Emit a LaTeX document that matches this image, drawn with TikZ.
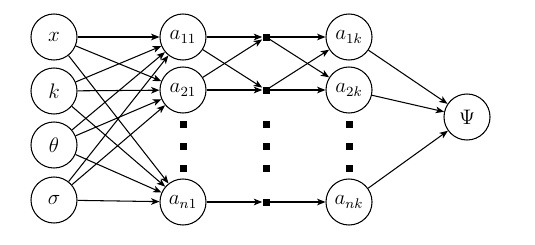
\documentclass[tikz,border=0pt]{standalone}
\usetikzlibrary{arrows.meta}
\begin{document}
\begin{tikzpicture}[x=0.5714pt,y=-0.5714pt,
  font=\fontsize{11.5}{14}\selectfont,
  neuron/.style={circle,draw,line width=0.6pt,minimum size=26.3pt,inner sep=0pt},
  junc/.style={rectangle,fill=black,minimum size=4pt,inner sep=0pt},
  vdot/.style={rectangle,fill=black,minimum size=4pt,inner sep=0pt},
  conn/.style={line width=0.6pt,-{Stealth[length=4.8pt,width=3.8pt,inset=1.3pt]}}]
\useasboundingbox (0,0) rectangle (535,244);
% inputs
\node[neuron] (x) at (54,37) {$x$};
\node[neuron] (k) at (54,91) {$k$};
\node[neuron] (t) at (54,145) {$\theta$};
\node[neuron] (s) at (54,200) {$\sigma$};
% first layer
\node[neuron] (a11) at (183,37) {$a_{11}$};
\node[neuron] (a21) at (183,90) {$a_{21}$};
\node[neuron] (an1) at (183,202) {$a_{n1}$};
% junctions
\node[junc] (j1) at (266,37) {};
\node[junc] (j2) at (266,90) {};
\node[junc] (jn) at (266,202) {};
% last layer
\node[neuron] (a1k) at (349,37) {$a_{1k}$};
\node[neuron] (a2k) at (349,90) {$a_{2k}$};
\node[neuron] (ank) at (349,202) {$a_{nk}$};
% output
\node[neuron] (psi) at (467,117) {$\Psi$};
% vertical dots
\foreach \cx/\nm in {183/a,266/j,349/k}{
  \node[vdot] (d1\nm) at (\cx,124) {};
  \node[vdot] (d2\nm) at (\cx,146) {};
  \node[vdot] (d3\nm) at (\cx,168) {};
}
% connections
\foreach \i in {x,k,t,s}{
  \foreach \o in {a11,a21,an1}{
    \draw[conn] (\i) -- (\o);
  }
}
\foreach \i in {a11,a21}{
  \foreach \o in {j1,j2}{
    \draw[conn] (\i) -- (\o);
  }
}
\draw[conn] (an1) -- (jn);
\foreach \i in {j1,j2}{
  \foreach \o in {a1k,a2k}{
    \draw[conn] (\i) -- (\o);
  }
}
\draw[conn] (jn) -- (ank);
\foreach \i in {a1k,a2k,ank}{
  \draw[conn] (\i) -- (psi);
}
\end{tikzpicture}
\end{document}
